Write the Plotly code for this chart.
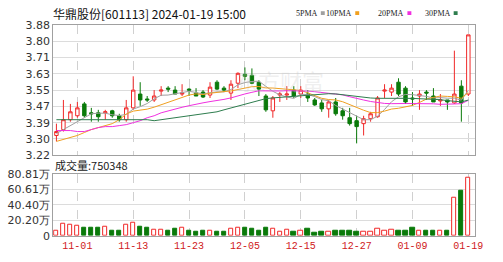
import plotly.graph_objects as go

dates = ["10-27","10-30","10-31","11-01","11-02","11-03","11-06","11-07","11-08","11-09",
         "11-10","11-13","11-14","11-15","11-16","11-17","11-20","11-21","11-22","11-23",
         "11-24","11-27","11-28","11-29","11-30","12-01","12-04","12-05","12-06","12-07",
         "12-08","12-11","12-12","12-13","12-14","12-15","12-18","12-19","12-20","12-21",
         "12-22","12-25","12-26","12-27","12-28","12-29","01-02","01-03","01-04","01-05",
         "01-08","01-09","01-10","01-11","01-12","01-15","01-16","01-17","01-18","01-19"]

open_ = [3.32,3.35,3.40,3.42,3.48,3.435,3.435,3.435,3.445,3.42,
         3.40,3.46,3.53,3.505,3.50,3.545,3.56,3.55,3.53,3.555,
         3.535,3.54,3.525,3.59,3.56,3.535,3.585,3.63,3.625,3.59,
         3.52,3.445,3.525,3.525,3.55,3.53,3.53,3.50,3.485,3.455,
         3.49,3.445,3.41,3.395,3.38,3.405,3.415,3.545,3.54,3.59,
         3.56,3.51,3.52,3.54,3.52,3.495,3.50,3.485,3.57,3.53]
high = [3.38,3.50,3.48,3.49,3.49,3.46,3.45,3.45,3.45,3.43,
        3.50,3.62,3.59,3.52,3.55,3.57,3.57,3.57,3.58,3.56,
        3.56,3.55,3.59,3.60,3.57,3.60,3.64,3.665,3.66,3.60,
        3.53,3.52,3.54,3.57,3.57,3.57,3.55,3.51,3.50,3.50,
        3.51,3.46,3.46,3.42,3.42,3.44,3.52,3.58,3.58,3.61,
        3.57,3.54,3.55,3.55,3.56,3.53,3.50,3.75,3.60,3.83]
low = [3.29,3.34,3.39,3.41,3.41,3.39,3.39,3.40,3.41,3.39,
       3.39,3.45,3.47,3.49,3.49,3.52,3.54,3.53,3.52,3.52,
       3.52,3.51,3.51,3.55,3.54,3.50,3.56,3.60,3.58,3.52,
       3.44,3.41,3.49,3.50,3.51,3.51,3.49,3.47,3.44,3.41,
       3.42,3.40,3.37,3.28,3.32,3.39,3.41,3.51,3.52,3.52,
       3.48,3.47,3.45,3.50,3.49,3.47,3.45,3.48,3.39,3.52]
close = [3.34,3.40,3.44,3.46,3.42,3.43,3.415,3.44,3.42,3.40,
         3.46,3.55,3.50,3.50,3.52,3.55,3.555,3.53,3.535,3.55,
         3.52,3.515,3.565,3.555,3.55,3.58,3.635,3.62,3.585,3.555,
         3.45,3.51,3.53,3.53,3.52,3.55,3.51,3.475,3.455,3.49,
         3.43,3.42,3.38,3.365,3.405,3.43,3.51,3.55,3.56,3.53,
         3.49,3.505,3.53,3.535,3.49,3.50,3.49,3.53,3.485,3.83]

ma5 = [3.33,3.35,3.37,3.39,3.412,3.43,3.433,3.433,3.425,3.421,
       3.427,3.454,3.466,3.482,3.506,3.524,3.525,3.531,3.538,3.544,
       3.538,3.53,3.537,3.541,3.541,3.553,3.577,3.588,3.594,3.595,
       3.569,3.544,3.526,3.515,3.508,3.528,3.528,3.517,3.502,3.496,
       3.472,3.454,3.435,3.417,3.40,3.40,3.418,3.452,3.491,3.516,
       3.528,3.527,3.523,3.518,3.51,3.512,3.509,3.509,3.499,3.55]
ma10 = [3.29,3.30,3.31,3.32,3.335,3.35,3.36,3.37,3.38,3.40,
        3.4285,3.4435,3.4495,3.4535,3.4635,3.4755,3.4895,3.4985,3.51,3.525,
        3.531,3.5275,3.534,3.5395,3.5425,3.5455,3.5535,3.5625,3.5675,3.568,
        3.561,3.5605,3.557,3.5545,3.5515,3.5485,3.536,3.5215,3.5085,3.502,
        3.50,3.491,3.476,3.4595,3.448,3.436,3.436,3.4435,3.454,3.458,
        3.464,3.4725,3.4875,3.5045,3.513,3.52,3.518,3.516,3.5085,3.5385]
ma20 = [3.345,3.345,3.345,3.34,3.34,3.35,3.36,3.365,3.365,3.37,
        3.375,3.385,3.395,3.41,3.42,3.435,3.445,3.455,3.463,3.471,
        3.4798,3.4855,3.4918,3.4965,3.503,3.5105,3.5215,3.5305,3.5388,3.5465,
        3.546,3.544,3.5455,3.547,3.547,3.547,3.5448,3.542,3.538,3.535,
        3.5305,3.5258,3.5165,3.507,3.4998,3.4923,3.486,3.4825,3.4813,3.48,
        3.482,3.4818,3.4818,3.482,3.4805,3.478,3.477,3.4798,3.4813,3.4983]
ma30 = [3.40,3.40,3.40,3.40,3.40,3.40,3.40,3.40,3.40,3.40,
        3.40,3.40,3.40,3.40,3.395,3.40,3.405,3.41,3.415,3.42,
        3.425,3.43,3.435,3.44,3.45,3.46,3.47,3.48,3.49,3.50,
        3.5068,3.5105,3.5135,3.5158,3.5192,3.5232,3.5263,3.5275,3.5287,3.5317,
        3.5307,3.5263,3.5223,3.5178,3.514,3.51,3.5085,3.5092,3.51,3.5093,
        3.5083,3.508,3.5068,3.5062,3.5042,3.5015,3.4967,3.4937,3.4903,3.4995]

volume_wan = [7,15,14,13,10,11,11,12,6,6,
              14,17,12,10,8,8,7,9,10,6,
              5,6,7,5,5,9,10,11,9.5,7,
              10,9.5,5,8,5,7,8.7,4,5,5,
              6,6,6,5.5,5,5,8.7,6,8,6.6,
              6.6,10,7,6.6,6.6,6.6,6.6,49,58.6,75.0348]

price_ticks = [3.22,3.3025,3.385,3.4675,3.55,3.6325,3.715,3.7975,3.88]
price_labels = ["3.22","3.30","3.39","3.47","3.55","3.63","3.71","3.80","3.88"]
vol_ticks = [0,20.2025,40.405,60.6075,80.81]
vol_labels = ["0","20.20万","40.40万","60.61万","80.81万"]
date_ticks = ["11-01","11-13","11-23","12-05","12-15","12-27","01-09","01-19"]

title_text = "华鼎股份[601113] 2024-01-19 15:00"
vol_title = "成交量:750348"
ma_names = ["5PMA","10PMA","20PMA","30PMA"]
ma_colors = ["#a0a0a0","#f0a020","#f030e0","#2e7d4e"]

RED = "#f02828"
GREEN = "#0a7a0a"
W, H = 503, 262

fig = go.Figure()
fig.add_trace(go.Candlestick(
    x=dates, open=open_, high=high, low=low, close=close,
    increasing=dict(line=dict(color=RED, width=1), fillcolor="white"),
    decreasing=dict(line=dict(color=GREEN, width=1), fillcolor=GREEN),
    whiskerwidth=0, showlegend=False, xaxis="x", yaxis="y"))
for vals, name, col in zip([ma5, ma10, ma20, ma30], ma_names, ma_colors):
    fig.add_trace(go.Scatter(x=dates, y=vals, mode="lines", line=dict(color=col, width=1),
                             showlegend=False, xaxis="x", yaxis="y"))
up = [c >= o for c, o in zip(close, open_)]
fig.add_trace(go.Bar(
    x=dates, y=volume_wan, width=0.62,
    marker=dict(color=["white" if u else GREEN for u in up],
                line=dict(color=[RED if u else GREEN for u in up], width=1)),
    showlegend=False, xaxis="x2", yaxis="y2"))

xdom = [54 / W, 483 / W]
common_x = dict(domain=xdom, type="category", range=[-0.47, 60.0],
                tickvals=date_ticks, showgrid=True, gridcolor="#d0d0d0",
                griddash="dash", gridwidth=1, showline=True, mirror=True,
                linecolor="#a0a0a0", linewidth=1, ticks="", zeroline=False)
fig.update_layout(
    width=W, height=H, margin=dict(l=0, r=0, t=0, b=0),
    paper_bgcolor="white", plot_bgcolor="white", bargap=0,
    font=dict(family="DejaVu Sans", size=11, color="#333"),
    xaxis=dict(**common_x, anchor="y", showticklabels=False,
               rangeslider=dict(visible=False)),
    xaxis2=dict(**common_x, anchor="y2", ticktext=date_ticks, showticklabels=True,
                tickfont=dict(family="Liberation Mono", size=10, color="#d02020")),
    yaxis=dict(domain=[1 - 157 / H, 1 - 20 / H], range=[3.22, 3.88],
               tickvals=price_ticks, ticktext=price_labels, showgrid=True,
               gridcolor="#dcdcdc", showline=True, mirror=True, linecolor="#a0a0a0",
               ticks="", zeroline=False, tickfont=dict(size=11, color="#333")),
    yaxis2=dict(domain=[1 - 241.7 / H, 1 - 176.5 / H], range=[0, 80.81],
                tickvals=vol_ticks, ticktext=vol_labels, showgrid=True,
                gridcolor="#dcdcdc", showline=True, mirror=True, linecolor="#a0a0a0",
                ticks="", zeroline=False, tickfont=dict(size=11, color="#333")),
)

ann = []
ann.append(dict(text=title_text, x=52 / W, y=1 - 7.5 / H, xref="paper", yref="paper",
                xanchor="left", yanchor="middle", showarrow=False,
                font=dict(family="Noto Sans CJK SC", size=12, color="#111")))
ann.append(dict(text=vol_title, x=54 / W, y=1 - 167.5 / H, xref="paper", yref="paper",
                xanchor="left", yanchor="middle", showarrow=False,
                font=dict(family="Noto Sans CJK SC", size=11, color="#222")))
ann.append(dict(text="东方财富", x=285 / W, y=1 - 78 / H, xref="paper", yref="paper",
                xanchor="center", yanchor="middle", showarrow=False,
                font=dict(family="Noto Sans CJK SC", size=22, color="rgba(200,200,200,0.3)")))
shapes = []
marker_x = [326, 361, 414, 461]
for mx, name, col in zip(marker_x, ma_names, ma_colors):
    ann.append(dict(text=name, x=(mx - 1) / W, y=1 - 7.5 / H,
                    xref="paper", yref="paper", xanchor="right", yanchor="middle",
                    showarrow=False, font=dict(family="Liberation Serif", size=8, color="#222")))
    shapes.append(dict(type="rect", xref="paper", yref="paper",
                       x0=mx / W, x1=(mx + 4) / W, y0=1 - 9.5 / H, y1=1 - 5.5 / H,
                       fillcolor=col, line=dict(width=0)))
fig.update_layout(annotations=ann, shapes=shapes)

fig.write_html("out.html")
